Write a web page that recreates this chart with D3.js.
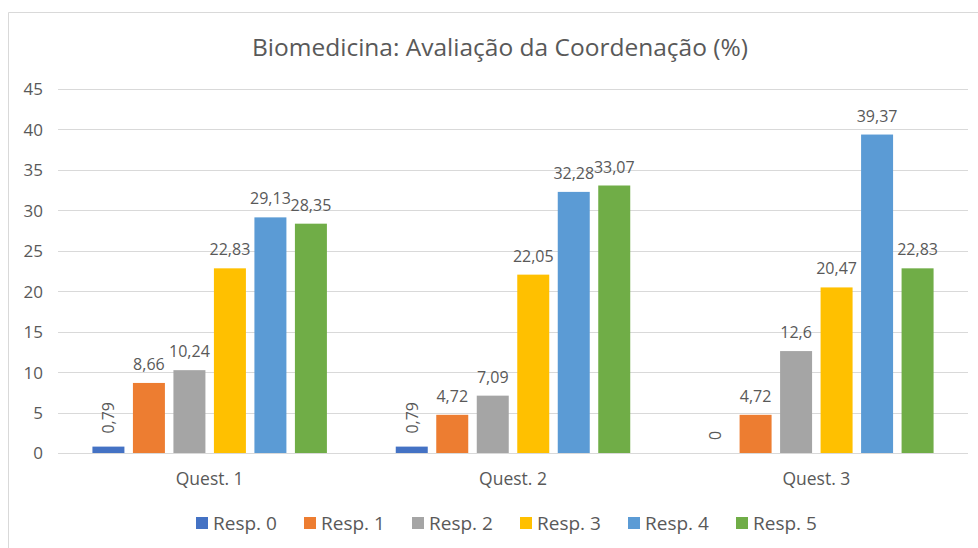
<!DOCTYPE html>
<html>
<head>
<meta charset="utf-8">
<script src="https://cdn.jsdelivr.net/npm/d3@7"></script>
<style>
	body { margin: 0; background: #fff; }
	text { font-family: "Open Sans", "Noto Sans", sans-serif; fill: #595959; }
</style>
</head>
<body>
<div id="body"></div>
<script>
// data
var categories = ["Quest. 1", "Quest. 2", "Quest. 3"];
var series = ["Resp. 0", "Resp. 1", "Resp. 2", "Resp. 3", "Resp. 4", "Resp. 5"];
var resp0 = [0.79, 0.79, 0];
var resp1 = [8.66, 4.72, 4.72];
var resp2 = [10.24, 7.09, 12.6];
var resp3 = [22.83, 22.05, 20.47];
var resp4 = [29.13, 32.28, 39.37];
var resp5 = [28.35, 33.07, 22.83];
var yTicks = [0, 5, 10, 15, 20, 25, 30, 35, 40, 45];
var colors = ["#4472C4", "#ED7D31", "#A5A5A5", "#FFC000", "#5B9BD5", "#70AD47"];
var title = "Biomedicina: Avaliação da Coordenação (%)";

var values = [resp0, resp1, resp2, resp3, resp4, resp5];
var rows = [];
categories.forEach(function(c, i){
	series.forEach(function(s, j){
		rows.push({cat: c, ser: s, idx: j, v: values[j][i]});
	});
});

const W = 978, H = 548;
const margin = {top: 89, right: 10, bottom: 95, left: 58};
var width = W - margin.left - margin.right,
		height = H - margin.top - margin.bottom;

var svg = d3.select("#body").append("svg").attr("width", W).attr("height", H);

// chart frame (cropped on the right and bottom in the reference)
svg.append("path").attr("d", "M8.5," + H + "V12.5H" + W)
	.attr("fill", "none").attr("stroke", "#D9D9D9").attr("stroke-width", 1);

svg.append("text").attr("x", 500).attr("y", 56).attr("text-anchor", "middle")
	.style("font-size", "24.5px").text(title);

var g = svg.append("g").attr("transform", "translate(" + margin.left + "," + margin.top + ")");

var y = d3.scaleLinear().domain([0, 45]).range([height, 0]);
var x0 = d3.scaleBand().domain(categories).range([0, width]).padding(0);
var x1 = d3.scaleBand().domain(series).range([0, x0.bandwidth()]).paddingInner(0.21).paddingOuter(0.85);

// gridlines
g.selectAll(".grid").data(yTicks).enter().append("line")
	.attr("x1", 0).attr("x2", width)
	.attr("y1", function(d){ return Math.round(y(d)) + 0.5; })
	.attr("y2", function(d){ return Math.round(y(d)) + 0.5; })
	.attr("stroke", "#D9D9D9").attr("stroke-width", 1);

// y axis labels
var yAxis = g.append("g").call(d3.axisLeft(y).tickValues(yTicks).tickSize(0).tickPadding(15));
yAxis.select(".domain").remove();
yAxis.selectAll("text").style("font-size", "17px").attr("fill", "#595959").attr("dy", "0.35em");

// x axis labels
var xAxis = g.append("g").attr("transform", "translate(0," + height + ")")
	.call(d3.axisBottom(x0).tickSize(0).tickPadding(20));
xAxis.select(".domain").remove();
xAxis.selectAll("text").style("font-size", "17.5px").attr("fill", "#595959");

// bars
var groups = g.selectAll(".grp").data(categories).enter().append("g")
	.attr("transform", function(d){ return "translate(" + x0(d) + ",0)"; });

groups.selectAll("rect").data(function(c){ return rows.filter(function(r){ return r.cat == c; }); })
	.enter().append("rect")
	.attr("x", function(d){ return x1(d.ser); })
	.attr("width", x1.bandwidth())
	.attr("y", function(d){ return y(d.v); })
	.attr("height", function(d){ return height - y(d.v); })
	.attr("fill", function(d){ return colors[d.idx]; });

// data labels, Resp. 0 rotated
groups.selectAll(".lbl").data(function(c){ return rows.filter(function(r){ return r.cat == c; }); })
	.enter().append("text")
	.style("font-size", "16px")
	.attr("text-anchor", function(d){ return d.idx == 0 ? "start" : "middle"; })
	.attr("transform", function(d){
		var cx = x1(d.ser) + x1.bandwidth() / 2;
		if (d.idx == 0) return "translate(" + (cx + 6) + "," + (y(d.v) - 13) + ") rotate(-90)";
		return "translate(" + cx + "," + (y(d.v) - 13) + ")";
	})
	.text(function(d){ return String(d.v).replace(".", ","); });

// legend
var legend = svg.append("g").attr("transform", "translate(196,523)");
var items = legend.selectAll("g").data(series).enter().append("g")
	.attr("transform", function(d, i){ return "translate(" + (i * 108) + ",0)"; });
items.append("rect").attr("x", 0).attr("y", -6).attr("width", 12).attr("height", 12)
	.attr("fill", function(d, i){ return colors[i]; });
items.append("text").attr("x", 17).attr("y", 0).attr("dy", "0.35em")
	.style("font-size", "19px").text(function(d){ return d; });
</script>
</body>
</html>
